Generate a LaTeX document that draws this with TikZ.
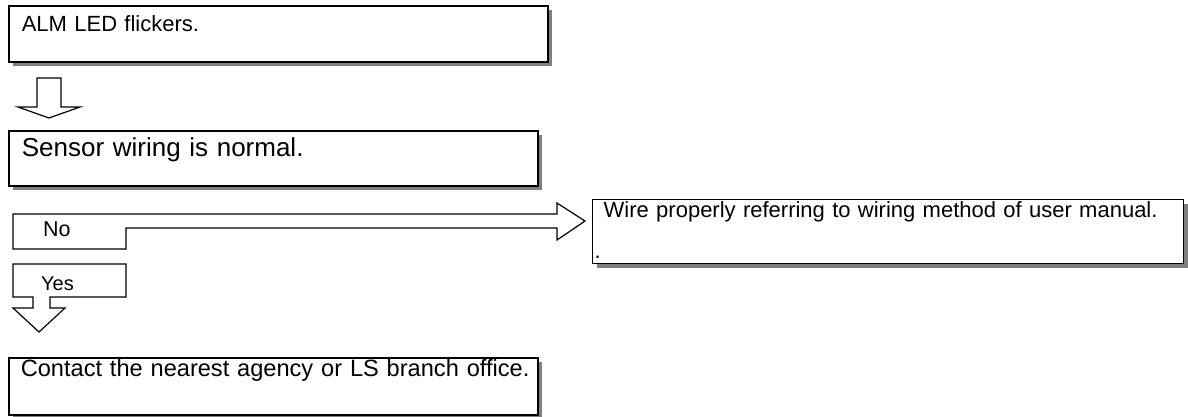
\documentclass[tikz,border=0pt]{standalone}
\usepackage{fontspec}
\setmainfont{Liberation Sans}
\usetikzlibrary{shadows}
\begin{document}
\begin{tikzpicture}[x=1pt,y=-1pt,
	cadre/.style={draw,line width=1.6pt,fill=white,anchor=north west,inner ysep=0pt,inner xsep=13pt,align=left,
		drop shadow={shadow xshift=4.5pt,shadow yshift=-4.5pt,fill=black!50,opacity=1}},
	fleche/.style={draw,line width=1.2pt,fill=white,line join=miter},
	etiquette/.style={anchor=base west,inner sep=0pt}]
	% Dimensions de la page
	\def\xlrg{1188} \def\ylrg{416}
	\useasboundingbox (0,0) rectangle (\xlrg,\ylrg);
%
% Les cadres
	\node[cadre,text width=513pt,text height=26pt,text depth=30pt,font=\fontsize{22}{25}\selectfont] (alm) at (8,5) {\mbox{ALM LED flickers.}};
	\node[cadre,text width=503pt,text height=26pt,text depth=29pt,font=\fontsize{26}{30}\selectfont] (sensor) at (8,130) {\mbox{Sensor wiring is normal.}};
	\node[cadre,line width=1.4pt,inner xsep=2pt,text width=587pt,text height=18pt,text depth=46pt,font=\fontsize{22}{41}\selectfont,
		drop shadow={shadow xshift=4pt,shadow yshift=-4pt,fill=black!50,opacity=1}] (wire) at (592,199)
		{\mbox{\hspace*{9pt}Wire properly referring to wiring method of user manual.}\\.};
	\node[cadre,inner xsep=12pt,text width=505pt,text height=19pt,text depth=38pt,font=\fontsize{23.6}{27}\selectfont] (contact) at (8,357) {\mbox{Contact the nearest agency or LS branch office.}};
%
% Les fleches
	\draw[fleche] (37,78)--(61,78)--(61,107)--(80,107)--(49,118)--(18,107)--(37,107)--cycle;
	\draw[fleche] (13,214)--(557,214)--(557,203)--(585,221)--(557,240)--(557,228)--(126,228)--(126,249)--(13,249)--cycle;
	\draw[fleche] (13,264)--(126,264)--(126,297)--(50,297)--(50,308)--(65,308)--(39,332)--(13,308)--(33,308)--(33,297)--(13,297)--cycle;
	\node[etiquette,font=\fontsize{21.5}{25}\selectfont] (no) at (43,236) {No};
	\node[etiquette,font=\fontsize{20}{23}\selectfont] (yes) at (41,290) {Yes};

\end{tikzpicture}
\end{document}
